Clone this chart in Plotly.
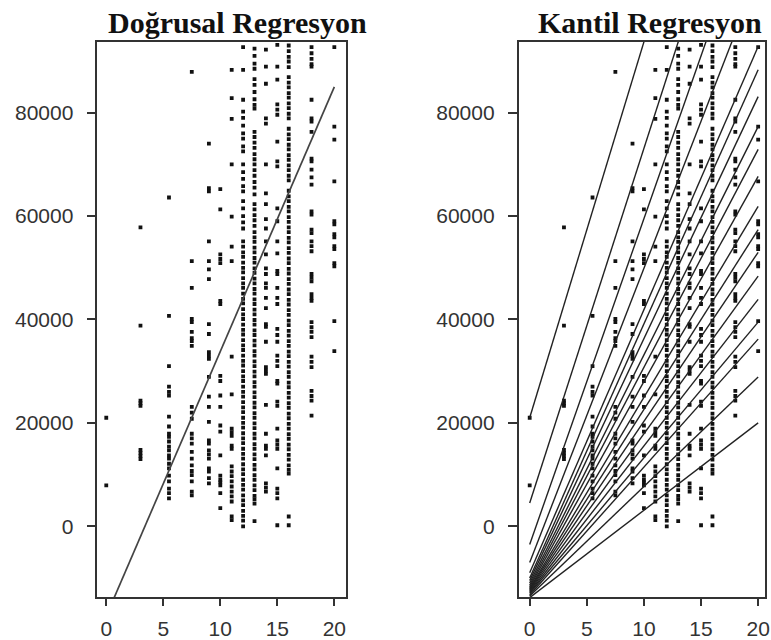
import plotly.graph_objects as go

# ---------------- data ----------------
edu_levels = [0, 3, 5.5, 7.5, 9, 10, 11, 12, 13, 14, 15, 16, 18, 20]

income_edu_0 = [7900, 21000]
income_edu_3 = [57800, 38800, 24300, 23800, 23300, 14800, 14200, 13600, 13000]
income_edu_5_5 = [63600, 40700, 31000, 27000, 26000, 25300, 21200, 19300, 17900, 17300,
                  16400, 15400, 14700, 13700, 13100, 12100, 11200, 9800, 8700, 7300, 6400, 5400]
income_edu_7_5 = [87900, 51300, 46100, 40100, 39500, 37600, 36400, 35800, 34900, 23100, 22000,
                  20800, 17900, 17000, 16000, 14400, 13100, 11800, 10700, 9900, 8700, 6700, 6000]
income_edu_9 = [74000, 65400, 64800, 55100, 51300, 49700, 47800, 39100, 37200, 33700, 33000,
                32400, 28900, 25100, 23100, 20200, 16600, 16000, 14700, 13900, 13100, 11200,
                10600, 9300, 8300]
income_edu_10 = [65200, 61300, 52600, 51700, 50900, 43600, 43000, 29100, 28100, 25300, 23100,
                 19500, 18300, 13700, 9800, 9000, 8500, 7900, 6400, 3500]
income_edu_11 = [88300, 82800, 78800, 70000, 59900, 54100, 51300, 32800, 25500, 18900, 18200,
                 17500, 15600, 15000, 11600, 10600, 9700, 8700, 7700, 6700, 5800, 4800, 1900, 1200]
income_edu_12 = [92700, 88300, 82500, 80200, 79000, 77500, 76000, 75000, 73500, 72500, 70000,
                 68500, 67200, 65800, 64800, 62900, 61500, 60000, 58800, 57600,
                 55100, 54100, 53000, 52100, 51000, 50000, 49100, 48000, 47000, 46100, 45000,
                 44000, 43100, 42000, 41000, 40100, 39000, 38000, 37100, 36000, 35000, 34100,
                 33000, 32000, 31100, 30000, 29000, 28100, 27000, 26000, 25100, 24000, 23000,
                 22100, 21000, 20000, 19100, 18000, 17000, 16100, 15000, 14000, 13100, 12000,
                 11000, 10100, 9000, 8000, 7100, 6000, 5000, 4100, 3000, 2000, 1100, 0]
income_edu_13 = [92400, 91000, 89500, 88500, 86500, 85400, 84000, 82600, 81500, 80800, 76300,
                 75300, 74200, 73200, 72000, 71000, 70000, 68900, 67800, 66600, 65500, 64200,
                 62300, 61300, 60200, 59200, 58100, 56900, 55900, 55000, 53900, 53000, 51900,
                 51000, 49900, 49000, 47900, 47000, 45900, 45000, 43900, 43000, 41900, 41000,
                 39900, 39000, 37900, 37000, 35900, 35000, 33900, 33000, 31900, 31000, 29900,
                 29000, 27900, 27000, 25900, 25000, 23900, 23000, 21900, 21000, 19900, 19000,
                 17900, 17000, 15900, 15000, 13900, 13000, 11900, 11000, 9900, 9000, 7900, 7000,
                 5900, 5200, 4400, 1000]
income_edu_14 = [92200, 88900, 85600, 78900, 77900, 70000, 64400, 62300, 59400, 57600, 55100,
                 52600, 49900, 48800, 47000, 46100, 44200, 42200, 39100, 38600, 35700, 30800,
                 30100, 29500, 23500, 17900, 15600, 15000, 13700, 8300, 7500, 6700]
income_edu_15 = [93100, 88900, 86400, 81600, 80600, 79600, 74400, 70600, 69600, 61500, 59000,
                 55100, 52800, 49400, 48800, 46100, 44200, 43000, 38200, 37000, 35700, 33000,
                 32000, 31000, 28100, 27600, 24100, 23300, 18900, 16600, 15800, 15000, 11200,
                 7300, 6400, 5400, 200]
income_edu_16 = [93000, 91900, 90800, 89900, 88800, 86900, 85800, 84900, 83800, 82900, 81800,
                 80900, 79800, 78900, 76900, 75800, 74900, 73800, 72900, 71800, 70900, 69800,
                 68900, 67800, 66900, 64900, 63800, 62900, 61800, 60900, 59800, 58900, 57800,
                 56900, 55800, 54900, 53800, 52900, 51800, 50900, 49800, 48900, 47800, 46900,
                 45800, 44900, 43800, 42900, 41800, 40900, 39800, 38900, 37800, 36900, 35800,
                 34900, 33800, 32900, 31800, 30900, 29800, 28900, 27800, 26900, 25800, 24900,
                 23800, 22900, 21800, 20900, 19800, 18900, 17800, 16900, 15800, 14900, 13800,
                 12900, 11800, 10900, 10200, 1900, 200]
income_edu_18 = [92700, 91500, 90400, 89400, 88900, 82500, 78900, 78300, 76300, 71100, 70600,
                 69000, 67500, 66100, 60900, 60300, 57400, 56700, 55100, 54200, 53200, 48800,
                 48100, 47400, 44900, 44200, 43600, 39500, 38500, 37600, 36600, 32800, 31800,
                 30800, 26200, 25200, 24300, 21400]
income_edu_20 = [92700, 77300, 74800, 66700, 59000, 58400, 56500, 55900, 54200, 53600, 50900,
                 50300, 39700, 33900]

incomes_by_level = [income_edu_0, income_edu_3, income_edu_5_5, income_edu_7_5, income_edu_9,
                    income_edu_10, income_edu_11, income_edu_12, income_edu_13, income_edu_14,
                    income_edu_15, income_edu_16, income_edu_18, income_edu_20]

# linear (OLS) regression line
ols_intercept = -17350
ols_slope = 5118

# quantile regression lines (tau = 0.05 ... 0.95)
quant_intercepts = [-13800, -13500, -13300, -13000, -12800, -12600, -12400, -12200, -12000,
                    -11700, -11400, -11000, -10500, -10000, -9000, -7000, -3500, 4500, 21000]
quant_slopes = [1690, 2120, 2475, 2625, 2835, 3050, 3270, 3480, 3695, 3970, 4215, 4415, 4680,
                4915, 5090, 5690, 6300, 6860, 7270]

x_ticks = [0, 5, 10, 15, 20]
y_ticks = [0, 20000, 40000, 60000, 80000]
titles = ["Doğrusal Regresyon", "Kantil Regresyon"]

# ---------------- build figure ----------------
px_all, py_all = [], []
for lvl, vals in zip(edu_levels, incomes_by_level):
    px_all += [lvl] * len(vals)
    py_all += vals

x_line = [min(edu_levels), max(edu_levels)]

fig = go.Figure()
marker = dict(symbol="square", size=3.8, color="#111111", line=dict(width=0))

for xa, ya in [("x", "y"), ("x2", "y2")]:
    fig.add_trace(go.Scatter(x=px_all, y=py_all, mode="markers", marker=marker,
                             xaxis=xa, yaxis=ya, showlegend=False, hoverinfo="skip"))

fig.add_trace(go.Scatter(x=x_line, y=[ols_intercept + ols_slope * xv for xv in x_line],
                         mode="lines", line=dict(color="#444444", width=1.7),
                         xaxis="x", yaxis="y", showlegend=False))

for a, b in zip(quant_intercepts, quant_slopes):
    fig.add_trace(go.Scatter(x=x_line, y=[a + b * xv for xv in x_line], mode="lines",
                             line=dict(color="#222222", width=1.4),
                             xaxis="x2", yaxis="y2", showlegend=False))

W, H = 771, 640
ydom = [1 - 599 / H, 1 - 42 / H]
tickfont = dict(family="Liberation Sans, Arial, sans-serif", size=21, color="#333333")
common_x = dict(tickvals=x_ticks, ticks="outside", ticklen=7, tickwidth=1.5, tickcolor="#333333",
                showline=True, linecolor="#333333", linewidth=1.5, mirror=True, showgrid=False,
                zeroline=False, tickfont=tickfont, ticklabelstandoff=5,
                ticklabeloverflow="allow")
common_y = dict(tickvals=y_ticks, ticks="outside", ticklen=9, tickwidth=1.5, tickcolor="#333333",
                showline=True, linecolor="#333333", linewidth=1.5, mirror=True, showgrid=False,
                zeroline=False, tickfont=tickfont, range=[-13700, 93700], domain=ydom,
                ticklabelstandoff=9, tickformat="d", ticklabeloverflow="allow")

fig.update_layout(
    width=W, height=H, margin=dict(l=0, r=0, t=0, b=0),
    paper_bgcolor="white", plot_bgcolor="white",
    xaxis=dict(domain=[98 / W, 348 / W], range=[-0.78, 21.0], anchor="y", **common_x),
    yaxis=dict(anchor="x", **common_y),
    xaxis2=dict(domain=[522 / W, 770 / W], range=[-0.97, 20.6], anchor="y2", **common_x),
    yaxis2=dict(anchor="x2", **common_y),
    annotations=[
        dict(text="<b>%s</b>" % titles[0], x=239 / W, y=1 - 23 / H, xref="paper", yref="paper",
             xanchor="center", yanchor="middle", showarrow=False,
             font=dict(family="Liberation Serif, Times New Roman, serif", size=30, color="#111111")),
        dict(text="<b>%s</b>" % titles[1], x=654 / W, y=1 - 23 / H, xref="paper", yref="paper",
             xanchor="center", yanchor="middle", showarrow=False,
             font=dict(family="Liberation Serif, Times New Roman, serif", size=30, color="#111111")),
    ],
)

fig.write_html("out.html")
